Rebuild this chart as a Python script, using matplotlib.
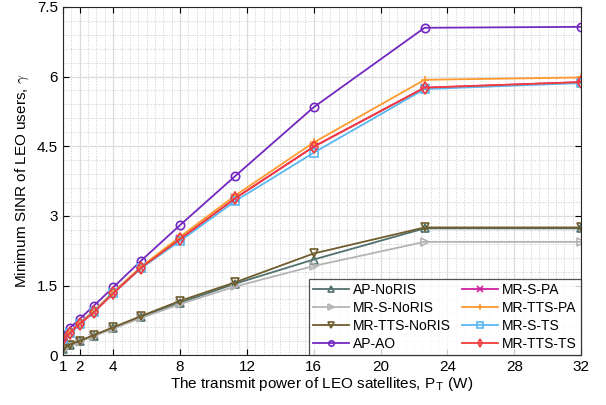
import matplotlib
matplotlib.use("Agg")
import matplotlib.pyplot as plt
from matplotlib.ticker import MultipleLocator

plt.rcParams['font.family'] = ['Liberation Sans', 'DejaVu Sans']
plt.rcParams['mathtext.fontset'] = 'cm'

# transmit power (W), steps of sqrt(2)
power = [1, 1.414, 2, 2.828, 4, 5.657, 8, 11.31, 16, 22.63, 32]

ap_noris = [0.13, 0.22, 0.30, 0.42, 0.59, 0.82, 1.13, 1.54, 2.06, 2.73, 2.73]
mr_s_noris = [0.12, 0.21, 0.29, 0.41, 0.57, 0.80, 1.10, 1.48, 1.92, 2.44, 2.44]
mr_tts_noris = [0.13, 0.23, 0.31, 0.43, 0.60, 0.84, 1.17, 1.57, 2.19, 2.75, 2.75]
ap_ao = [0.44, 0.59, 0.78, 1.06, 1.46, 2.03, 2.80, 3.86, 5.34, 7.05, 7.07]
mr_s_pa = [0.35, 0.48, 0.68, 0.92, 1.33, 1.88, 2.50, 3.38, 4.49, 5.76, 5.88]
mr_tts_pa = [0.37, 0.50, 0.70, 0.95, 1.36, 1.90, 2.55, 3.44, 4.58, 5.93, 5.98]
mr_s_ts = [0.35, 0.48, 0.68, 0.93, 1.34, 1.87, 2.46, 3.32, 4.36, 5.73, 5.86]
mr_tts_ts = [0.35, 0.48, 0.68, 0.92, 1.33, 1.88, 2.50, 3.38, 4.49, 5.76, 5.88]

series = [
    ("AP-NoRIS", ap_noris, "#50706e", "^"),
    ("MR-S-NoRIS", mr_s_noris, "#b4b4b4", ">"),
    ("MR-TTS-NoRIS", mr_tts_noris, "#6e5c2c", "v"),
    ("AP-AO", ap_ao, "#7228c0", "o"),
    ("MR-S-PA", mr_s_pa, "#d0209c", "x"),
    ("MR-TTS-PA", mr_tts_pa, "#ff9a2e", "+"),
    ("MR-S-TS", mr_s_ts, "#5ab8f0", "s"),
    ("MR-TTS-TS", mr_tts_ts, "#f03c3c", "d"),
]

fig = plt.figure(figsize=(6.06, 4.05), dpi=100)
ax = fig.add_axes([0.104, 0.123, 0.855, 0.860])

for name, vals, col, mk in series:
    ax.plot(power, vals, color=col, marker=mk, markersize=6, markerfacecolor='none',
            markeredgewidth=1.2, linewidth=1.3, label=name)

ax.set_xlim(1, 32)
ax.set_ylim(0, 7.5)
ax.set_xticks([1, 2, 4, 8, 12, 16, 20, 24, 28, 32])
ax.set_yticks([0, 1.5, 3, 4.5, 6, 7.5])
ax.set_yticklabels(["0", "1.5", "3", "4.5", "6", "7.5"])
ax.xaxis.set_minor_locator(MultipleLocator(0.5))
ax.yaxis.set_minor_locator(MultipleLocator(0.3))
ax.grid(which='major', color='#dcdcdc', linewidth=0.9)
ax.grid(which='minor', color='#cccccc', linestyle=':', linewidth=0.7)
ax.set_axisbelow(True)
ax.tick_params(which='both', direction='in', top=True, right=True, labelsize=11)
ax.tick_params(which='minor', length=0)
ax.tick_params(which='major', length=4)
for sp in ax.spines.values():
    sp.set_color('#262626')

ax.set_xlabel(r"The transmit power of LEO satellites, P$_{\mathsf{T}}$ (W)", fontsize=11, labelpad=1)
ax.set_ylabel(r"Minimum SINR of LEO users, $\gamma$", fontsize=11, labelpad=4)

leg = ax.legend(loc='lower right', ncol=2, fontsize=10, frameon=True, fancybox=False,
                edgecolor='#262626', borderaxespad=0, handlelength=2.6, handletextpad=0.3,
                columnspacing=0.8, labelspacing=0.28, borderpad=0.3, markerscale=0.65)
leg.get_frame().set_linewidth(0.9)

fig.savefig("out.png", dpi=100)
